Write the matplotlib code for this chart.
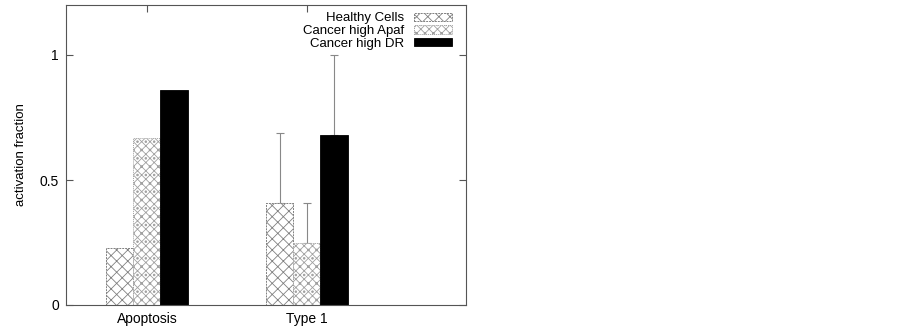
import matplotlib
matplotlib.use("Agg")
import matplotlib.pyplot as plt
import numpy as np

plt.rcParams['font.family'] = ['Liberation Sans', 'DejaVu Sans']
plt.rcParams['hatch.linewidth'] = 0.6

categories = ["Apoptosis", "Type 1"]
series_names = ["Healthy Cells", "Cancer high Apaf", "Cancer high DR"]
healthy = [0.23, 0.41]
apaf = [0.67, 0.25]
dr = [0.86, 0.68]
healthy_err = [0.0, 0.28]
apaf_err = [0.0, 0.16]
dr_err = [0.0, 0.32]

fig = plt.figure(figsize=(9.02, 3.30), dpi=100)
ax = fig.add_axes([66/902, 25/330, 400/902, 300/330])

x = np.arange(len(categories))
w = 0.169
styles = [
    dict(facecolor='white', edgecolor='#808080', hatch='xxx', linewidth=0.7, linestyle=(0, (2, 1))),
    dict(facecolor='white', edgecolor='#a0a0a0', hatch='xxxx..', linewidth=0.7, linestyle=(0, (1, 1))),
    dict(facecolor='black', edgecolor='black', linewidth=0.6),
]
vals = [healthy, apaf, dr]
errs = [healthy_err, apaf_err, dr_err]
for i, (v, e, st, name) in enumerate(zip(vals, errs, styles, series_names)):
    pos = x + (i - 1) * w
    ax.bar(pos, v, w, label=name, zorder=2, **st)
    ebx = [p for p, ee in zip(pos, e) if ee > 0]
    eby = [vv for vv, ee in zip(v, e) if ee > 0]
    ebe = [ee for ee in e if ee > 0]
    ax.errorbar(ebx, eby, yerr=[[0]*len(ebe), ebe], fmt='none', ecolor='#888888',
                elinewidth=0.8, capsize=3, capthick=0.8, zorder=1)

ax.set_xlim(-0.506, 1.994)
ax.set_ylim(0, 1.2)
ax.set_xticks(x)
ax.set_xticklabels(categories, fontsize=10)
ax.set_yticks([0, 0.5, 1])
ax.set_yticklabels(['0', '0.5', '1'], fontsize=10)
ax.set_ylabel('activation fraction', fontsize=9.5, labelpad=9)
ax.tick_params(direction='in', top=True, right=True, length=5, width=0.8, color='#555555')
ax.tick_params(axis='x', pad=5)
ax.tick_params(axis='y', pad=5)
for s in ax.spines.values():
    s.set_color('#555555')
    s.set_linewidth(0.8)

leg = ax.legend(loc='upper right', frameon=False, markerfirst=False, fontsize=9.5,
                handlelength=2.9, handleheight=0.6, labelspacing=0.05,
                borderaxespad=0.0, borderpad=0.0, handletextpad=0.7,
                bbox_to_anchor=(0.965, 0.975))
for t in leg.get_texts():
    t.set_ha('right')

fig.savefig('out.png', dpi=100)
